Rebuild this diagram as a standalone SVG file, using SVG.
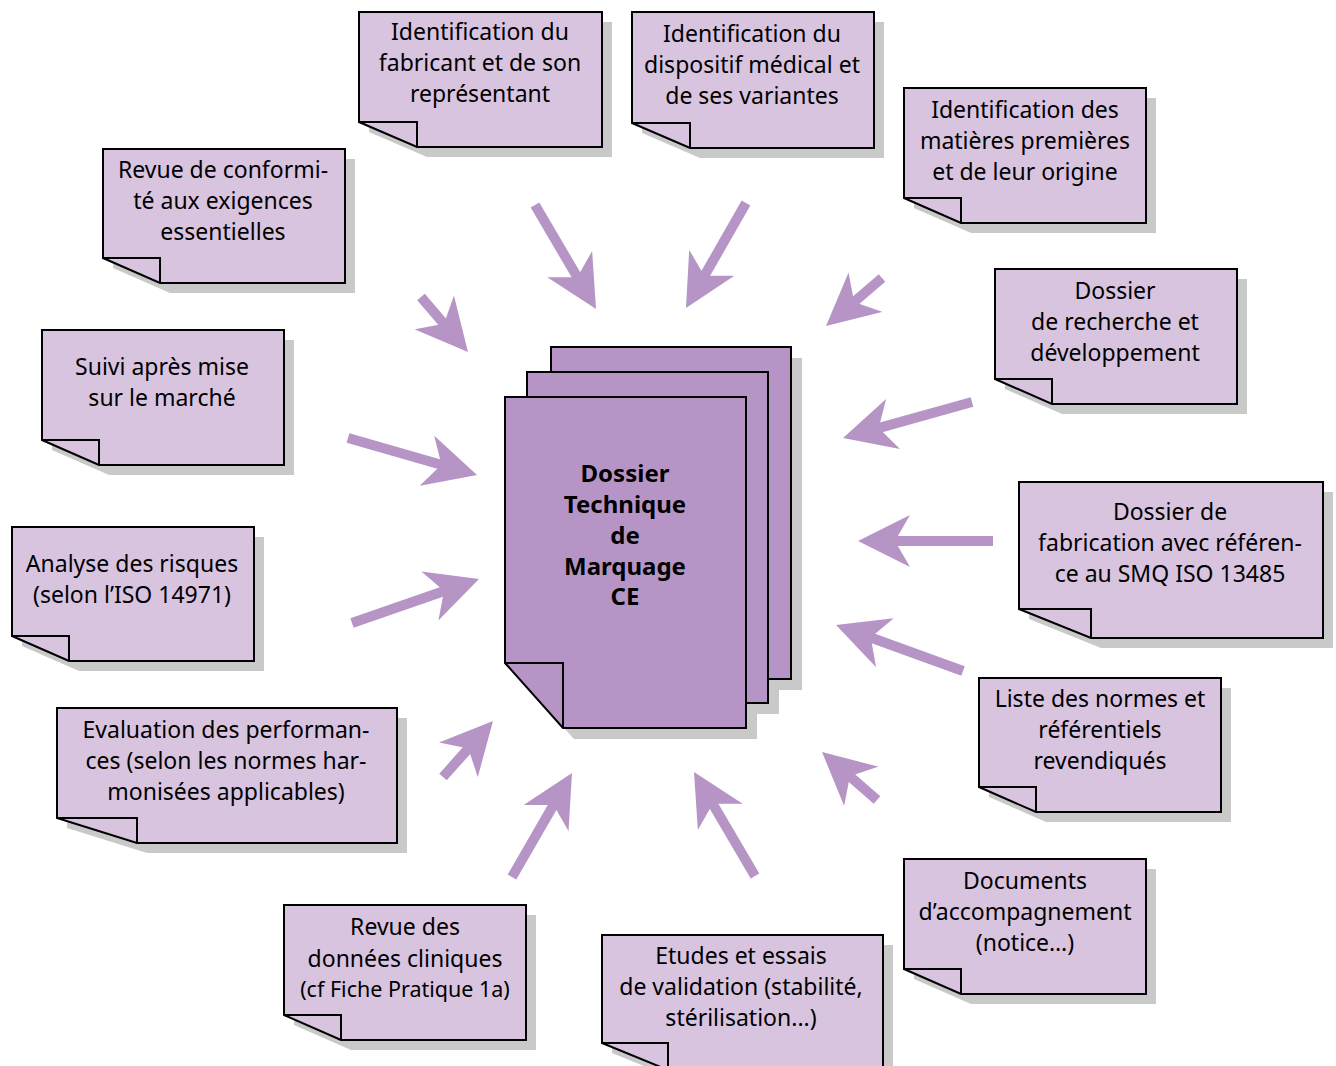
<svg xmlns="http://www.w3.org/2000/svg" width="1336" height="1066" viewBox="0 0 1336 1066">
<style>
.sh{fill:#c9c9c9;stroke:none}
.note{fill:#d9c4e0;stroke:#000;stroke-width:2;stroke-linejoin:miter}
.page{fill:#b695c6;stroke:#000;stroke-width:2;stroke-linejoin:miter}
.fold{fill:none;stroke:#000;stroke-width:2}
text{font-family:"Noto Sans","Open Sans","DejaVu Sans",sans-serif;font-size:23px;fill:#000;text-anchor:middle}
.title{font-weight:bold;font-size:24px}
.small{font-size:21.5px}
.arr{stroke:#b695c6;stroke-width:10;fill:none;marker-end:url(#head)}
</style>
<defs>
<marker id="head" markerUnits="userSpaceOnUse" markerWidth="52" markerHeight="52" viewBox="0 0 52 52" refX="32" refY="26" orient="auto">
<path d="M0,0 L52,26 L0,52 L15,26 Z" fill="#b695c6"/>
</marker>
</defs>

<g id="connectors">
<line class="arr" x1="421" y1="297" x2="455.0" y2="336.8"/>
<line class="arr" x1="535" y1="205" x2="585.9" y2="291.8"/>
<line class="arr" x1="746" y1="203" x2="695.9" y2="290.6"/>
<line class="arr" x1="882" y1="278" x2="841.2" y2="313.0"/>
<line class="arr" x1="972" y1="402" x2="862.3" y2="432.6"/>
<line class="arr" x1="993" y1="541" x2="878" y2="541"/>
<line class="arr" x1="963" y1="671" x2="854.8" y2="631.8"/>
<line class="arr" x1="877" y1="800" x2="837.1" y2="765.2"/>
<line class="arr" x1="755" y1="876" x2="704.1" y2="789.2"/>
<line class="arr" x1="512" y1="877" x2="562" y2="790.3"/>
<line class="arr" x1="443" y1="777" x2="479.7" y2="735.9"/>
<line class="arr" x1="352" y1="623" x2="460.1" y2="585.5"/>
<line class="arr" x1="348" y1="438" x2="457.8" y2="469.5"/>
</g>

<g id="center">
<polygon class="sh" points="562,358 802,358 802,690 620,690 562,625"/>
<polygon class="sh" points="538,383 779,383 779,714 596,714 538,649"/>
<polygon class="sh" points="516,408 757,408 757,739 574,739 516,674"/>
<polygon class="page" points="551,347 791,347 791,679 609,679 551,614"/>
<polygon class="page" points="527,372 768,372 768,703 585,703 527,638"/>
<polygon class="page" points="505,397 746,397 746,728 563,728 505,663"/>
<polyline class="fold" points="505,663 563,663 563,728"/>
<text class="title" x="625" y="482">Dossier</text>
<text class="title" x="625" y="513">Technique</text>
<text class="title" x="625" y="544">de</text>
<text class="title" x="625" y="575">Marquage</text>
<text class="title" x="625" y="605">CE</text>
</g>

<g id="n-fabricant">
<polygon class="sh" points="369,22 612,22 612,157 427,157 369,132"/>
<polygon class="note" points="359,12 602,12 602,147 417,147 359,122"/>
<polyline class="fold" points="359,122 417,122 417,147"/>
<text x="480" y="40">Identification du</text>
<text x="480" y="71">fabricant et de son</text>
<text x="480" y="102">représentant</text>
</g>

<g id="n-dispositif">
<polygon class="sh" points="642,22 884,22 884,158 700,158 642,133"/>
<polygon class="note" points="632,12 874,12 874,148 690,148 632,123"/>
<polyline class="fold" points="632,123 690,123 690,148"/>
<text x="752" y="42">Identification du</text>
<text x="752" y="73">dispositif médical et</text>
<text x="752" y="104">de ses variantes</text>
</g>

<g id="n-matieres">
<polygon class="sh" points="914,98 1156,98 1156,233 971,233 914,208"/>
<polygon class="note" points="904,88 1146,88 1146,223 961,223 904,198"/>
<polyline class="fold" points="904,198 961,198 961,223"/>
<text x="1025" y="118">Identification des</text>
<text x="1025" y="149">matières premières</text>
<text x="1025" y="180">et de leur origine</text>
</g>

<g id="n-recherche">
<polygon class="sh" points="1005,279 1247,279 1247,414 1062,414 1005,389"/>
<polygon class="note" points="995,269 1237,269 1237,404 1052,404 995,379"/>
<polyline class="fold" points="995,379 1052,379 1052,404"/>
<text x="1115" y="299">Dossier</text>
<text x="1115" y="330">de recherche et</text>
<text x="1115" y="361">développement</text>
</g>

<g id="n-fabrication">
<polygon class="sh" points="1029,492 1333,492 1333,648 1101,648 1029,619"/>
<polygon class="note" points="1019,482 1323,482 1323,638 1091,638 1019,609"/>
<polyline class="fold" points="1019,609 1091,609 1091,638"/>
<text x="1170" y="520">Dossier de</text>
<text x="1170" y="551">fabrication avec référen-</text>
<text x="1170" y="582">ce au SMQ ISO 13485</text>
</g>

<g id="n-normes">
<polygon class="sh" points="989,688 1231,688 1231,822 1046,822 989,797"/>
<polygon class="note" points="979,678 1221,678 1221,812 1036,812 979,787"/>
<polyline class="fold" points="979,787 1036,787 1036,812"/>
<text x="1100" y="707">Liste des normes et</text>
<text x="1100" y="738">référentiels</text>
<text x="1100" y="769">revendiqués</text>
</g>

<g id="n-documents">
<polygon class="sh" points="914,869 1156,869 1156,1004 971,1004 914,979"/>
<polygon class="note" points="904,859 1146,859 1146,994 961,994 904,969"/>
<polyline class="fold" points="904,969 961,969 961,994"/>
<text x="1025" y="889">Documents</text>
<text x="1025" y="920">d’accompagnement</text>
<text x="1025" y="951">(notice…)</text>
</g>

<g id="n-etudes">
<polygon class="sh" points="612,945 893,945 893,1080 678,1080 612,1053"/>
<polygon class="note" points="602,935 883,935 883,1070 668,1070 602,1043"/>
<polyline class="fold" points="602,1043 668,1043 668,1070"/>
<text x="741" y="964">Etudes et essais</text>
<text x="741" y="995">de validation (stabilité,</text>
<text x="741" y="1026">stérilisation...)</text>
</g>

<g id="n-cliniques">
<polygon class="sh" points="294,915 536,915 536,1050 351,1050 294,1025"/>
<polygon class="note" points="284,905 526,905 526,1040 341,1040 284,1015"/>
<polyline class="fold" points="284,1015 341,1015 341,1040"/>
<text x="405" y="935">Revue des</text>
<text x="405" y="967">données cliniques</text>
<text class="small" x="405" y="997">(cf Fiche Pratique 1a)</text>
</g>

<g id="n-performances">
<polygon class="sh" points="67,718 407,718 407,853 147,853 67,828"/>
<polygon class="note" points="57,708 397,708 397,843 137,843 57,818"/>
<polyline class="fold" points="57,818 137,818 137,843"/>
<text x="226" y="738">Evaluation des performan-</text>
<text x="226" y="769">ces (selon les normes har-</text>
<text x="226" y="800">monisées applicables)</text>
</g>

<g id="n-risques">
<polygon class="sh" points="22,537 264,537 264,671 79,671 22,646"/>
<polygon class="note" points="12,527 254,527 254,661 69,661 12,636"/>
<polyline class="fold" points="12,636 69,636 69,661"/>
<text x="132" y="572">Analyse des risques</text>
<text x="132" y="603">(selon l’ISO 14971)</text>
</g>

<g id="n-suivi">
<polygon class="sh" points="52,340 294,340 294,475 109,475 52,450"/>
<polygon class="note" points="42,330 284,330 284,465 99,465 42,440"/>
<polyline class="fold" points="42,440 99,440 99,465"/>
<text x="162" y="375">Suivi après mise</text>
<text x="162" y="406">sur le marché</text>
</g>

<g id="n-conformite">
<polygon class="sh" points="113,159 355,159 355,293 170,293 113,268"/>
<polygon class="note" points="103,149 345,149 345,283 160,283 103,258"/>
<polyline class="fold" points="103,258 160,258 160,283"/>
<text x="223" y="178">Revue de conformi-</text>
<text x="223" y="209">té aux exigences</text>
<text x="223" y="240">essentielles</text>
</g>
</svg>
